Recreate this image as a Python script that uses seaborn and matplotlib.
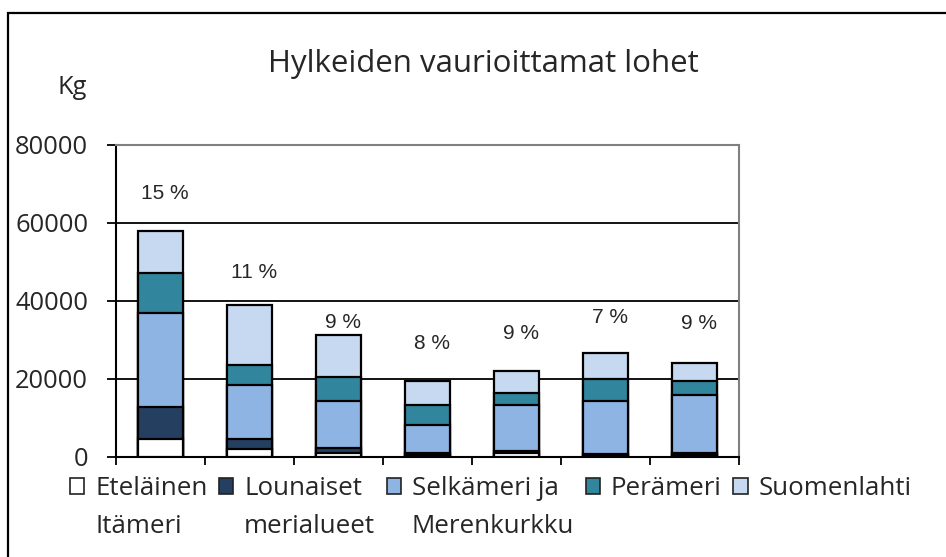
import numpy as np
import pandas as pd
import matplotlib
matplotlib.use("Agg")
import matplotlib.pyplot as plt
from matplotlib.patches import Rectangle, Patch
from matplotlib.legend_handler import HandlerPatch
import seaborn as sns

# ---- data ----
categories = ["1", "2", "3", "4", "5", "6", "7"]
series_names = ["Eteläinen\nItämeri", "Lounaiset\nmerialueet", "Selkämeri ja\nMerenkurkku",
                "Perämeri", "Suomenlahti"]
etelainen = [4500, 1900, 950, 400, 850, 200, 400]
lounaiset = [8300, 2650, 1200, 500, 600, 400, 600]
selkameri = [24100, 13800, 12100, 7100, 11800, 13550, 14700]
perameri = [10100, 5150, 6150, 5100, 3000, 5750, 3700]
suomenlahti = [10900, 15500, 10800, 6400, 5750, 6800, 4700]
percent_labels = ["15 %", "11 %", "9 %", "8 %", "9 %", "7 %", "9 %"]
y_ticks = [0, 20000, 40000, 60000, 80000]

# ---- styles ----
colors = ["#FFFFFF", "#243F60", "#8EB4E3", "#31859C", "#C6D9F1"]
label_offsets_px = [38, 32, 13, 37, 37, 35, 39]
LEG_FS = 18.6
LINE_STEP_PT = 15.6

series = [etelainen, lounaiset, selkameri, perameri, suomenlahti]
df = pd.DataFrame({"cat": categories})
cum = np.zeros(len(categories))
cum_cols = []
for name, vals in zip(series_names, series):
    cum = cum + np.array(vals, dtype=float)
    df[name] = cum.copy()
    cum_cols.append(name)

sns.set_style("white")
plt.rcParams["font.family"] = ["Open Sans", "DejaVu Sans"]

fig = plt.figure(figsize=(9.46, 5.57), dpi=100)
ax = fig.add_axes([116/946, 1-456.5/557, (739-116)/946, (456.5-145)/557])

for name, col in reversed(list(zip(cum_cols, colors))):
    sns.barplot(data=df, x="cat", y=name, color=col, ax=ax, width=0.5,
                edgecolor="black", linewidth=1.6, saturation=1, zorder=3)

ax.set_xlim(-0.5, len(categories) - 0.5)
ax.set_ylim(0, 80000)
ax.set_yticks(y_ticks)
ax.set_yticklabels([str(v) for v in y_ticks], fontsize=18.4)
ax.set_xticks(np.arange(-0.5, len(categories), 1))
ax.set_xticklabels([])
ax.set_xlabel("")
ax.set_ylabel("")
ax.tick_params(axis="y", length=6.5, width=1.3, color="black", pad=13.5, left=True)
ax.tick_params(axis="x", length=6, width=1.3, color="black", bottom=True)
ax.yaxis.grid(True, color="black", linewidth=1.3, zorder=0)
ax.set_axisbelow(True)
for s in ["left", "bottom"]:
    ax.spines[s].set_color("black")
    ax.spines[s].set_linewidth(1.5)
for s in ["top", "right"]:
    ax.spines[s].set_color("#808080")
    ax.spines[s].set_linewidth(1.5)

totals = df[cum_cols[-1]].values
for i, (lab, off) in enumerate(zip(percent_labels, label_offsets_px)):
    ax.annotate(lab, (i, totals[i]), xytext=(3, off * 0.72), textcoords="offset points",
                ha="center", va="center", fontsize=15, family=["Liberation Sans"])

fig.text(483/946, 1-64/557, "Hylkeiden vaurioittamat lohet", ha="center", va="center", fontsize=22.5)
fig.text(72/946, 1-87/557, "Kg", ha="center", va="center", fontsize=18.4)

fig.patches.append(Rectangle((8/946, -0.2), 1.2, 1.2 - 13/557, transform=fig.transFigure,
                             fill=False, edgecolor="black", linewidth=1.6))


class ShiftedHandler(HandlerPatch):
    def create_artists(self, legend, orig_handle, xdescent, ydescent, width, height,
                       fontsize, trans):
        r = Rectangle((-xdescent, -ydescent + LINE_STEP_PT), width, height)
        self.update_prop(r, orig_handle, legend)
        r.set_transform(trans)
        return [r]


handles = [Patch(facecolor=c, edgecolor="#222222", linewidth=1.2) for c in colors]
labels2 = [n if "\n" in n else n + "\n " for n in series_names]
leg = fig.legend(handles, labels2, loc="upper left", bbox_to_anchor=(70/946, 1-476/557),
                 ncol=5, frameon=False, fontsize=LEG_FS, handlelength=0.55, handleheight=0.58,
                 handletextpad=0.42, columnspacing=0.45, borderpad=0, borderaxespad=0,
                 handler_map={Patch: ShiftedHandler()})
for t in leg.get_texts():
    t.set_linespacing(1.7)

fig.savefig("out.png", dpi=100)
